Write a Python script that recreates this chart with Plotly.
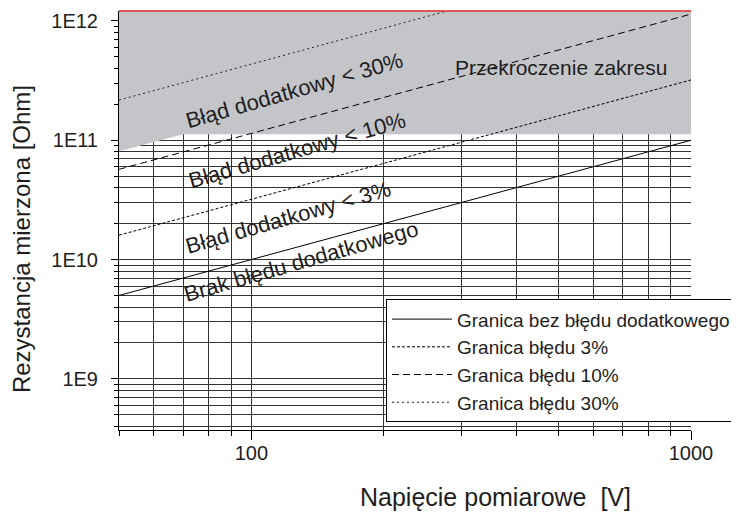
import math
import plotly.graph_objects as go

# Axis ranges
V_MIN, V_MAX = 50, 1000
R_MIN, R_MAX = 3.73e8, 1.21e12

# Boundary lines: resistance at the two voltage ends
voltage = [50, 1000]
r_no_error = [5e9, 1e11]
r_err3 = [1.6e10, 3.2e11]
r_err10 = [5.7e10, 1.14e12]
r_err30 = [2.17e11, 4.34e12]

# Over-range region ("Przekroczenie zakresu")
over_v = [50, 70, 1000, 1000, 50]
over_r = [8.1e10, 1.12e11, 1.12e11, R_MAX, R_MAX]

# Ticks
y_major = [1e9, 1e10, 1e11, 1e12]
y_labels = ["1E9", "1E10", "1E11", "1E12"]
y_minor = [m * 10 ** e for e in range(8, 12) for m in range(2, 10)]
x_major = [100, 1000]
x_labels = ["100", "1000"]
x_minor = [50, 60, 70, 80, 90, 200, 300, 400, 500, 600, 700, 800, 900]

legend_names = ["Granica bez błędu dodatkowego", "Granica błędu 3%",
                "Granica błędu 10%", "Granica błędu 30%"]

FONT = "Liberation Sans, Arial, sans-serif"
TXT = "#1e1e1e"
GRID = "#333333"

fig = go.Figure()
fig.add_trace(go.Scatter(x=over_v, y=over_r, mode="lines", fill="toself",
                         fillcolor="#c4c5c9", line=dict(width=0),
                         showlegend=False, hoverinfo="skip"))
styles = [("solid", "#000000"), ("3px,2px", "#000000"),
          ("7px,4px", "#000000"), ("2px,3px", "#222222")]
for name, ys, (dash, col) in zip(legend_names, [r_no_error, r_err3, r_err10, r_err30], styles):
    fig.add_trace(go.Scatter(x=voltage, y=ys, mode="lines", name=name,
                             line=dict(color=col, width=1, dash=dash)))

fig.update_xaxes(type="log", range=[math.log10(V_MIN), math.log10(V_MAX)],
                 tickmode="array", tickvals=x_major, ticktext=x_labels,
                 ticks="outside", ticklen=9, tickcolor="black",
                 ticklabelstandoff=-4,
                 showline=True, linecolor="black", linewidth=1,
                 showgrid=True, gridcolor=GRID, gridwidth=1, zeroline=False,
                 tickfont=dict(family=FONT, size=20, color=TXT),
                 minor=dict(tickmode="array", tickvals=x_minor, ticks="outside",
                            ticklen=5, tickcolor="black", showgrid=True,
                            gridcolor=GRID, gridwidth=1))
fig.update_yaxes(type="log", range=[math.log10(R_MIN), math.log10(R_MAX)],
                 tickmode="array", tickvals=y_major, ticktext=y_labels,
                 ticks="outside", ticklen=7, tickcolor="black",
                 ticklabelstandoff=9,
                 showline=True, linecolor="black", linewidth=1,
                 showgrid=True, gridcolor=GRID, gridwidth=1, zeroline=False,
                 tickfont=dict(family=FONT, size=20, color=TXT),
                 minor=dict(tickmode="array", tickvals=y_minor, ticks="outside",
                            ticklen=4, tickcolor="black", showgrid=True,
                            gridcolor=GRID, gridwidth=1))

ann_font = dict(family=FONT, size=22, color=TXT)
annotations = [
    dict(text="Błąd dodatkowy < 30%", x=0.306, y=0.811, textangle=-16),
    dict(text="Błąd dodatkowy < 10%", x=0.311, y=0.666, textangle=-16),
    dict(text="Błąd dodatkowy < 3%", x=0.2955, y=0.508, textangle=-16),
    dict(text="Brak błędu dodatkowego", x=0.318, y=0.403, textangle=-16),
]
for a in annotations:
    fig.add_annotation(xref="paper", yref="paper", showarrow=False,
                       xanchor="center", yanchor="middle", font=ann_font, **a)
fig.add_annotation(xref="paper", yref="paper", showarrow=False,
                   x=0.773, y=0.864, xanchor="center", yanchor="middle",
                   text="Przekroczenie zakresu",
                   font=dict(family=FONT, size=21, color=TXT))
fig.add_annotation(xref="paper", yref="paper", showarrow=False,
                   x=0.659, y=-0.16, xanchor="center", yanchor="middle",
                   text="Napięcie pomiarowe \u00a0[V]",
                   font=dict(family=FONT, size=25, color=TXT))
fig.add_annotation(xref="paper", yref="paper", showarrow=False,
                   x=-0.17, y=0.455, xanchor="center", yanchor="middle",
                   text="Rezystancja mierzona [Ohm]", textangle=-90,
                   font=dict(family=FONT, size=24, color=TXT))

fig.add_shape(type="line", xref="paper", yref="paper", x0=0, x1=1, y0=1, y1=1,
              line=dict(color="#e25555", width=2))

# page body has an 8px margin, so the figure is shifted up/left by 8px
fig.update_layout(
    width=731, height=504,
    margin=dict(l=111, r=48, t=3, b=82, autoexpand=False),
    paper_bgcolor="white", plot_bgcolor="white",
    font=dict(family=FONT, color=TXT),
    legend=dict(x=0.4668, y=0.312, xanchor="left", yanchor="top",
                bgcolor="white", bordercolor="black", borderwidth=1,
                font=dict(family=FONT, size=19, color=TXT),
                itemwidth=60, tracegroupgap=0),
)

fig.write_html("out.html")
